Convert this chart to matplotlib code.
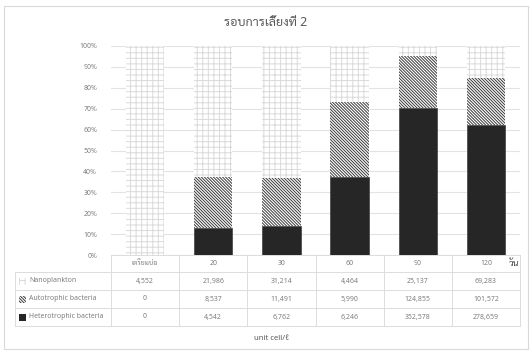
import numpy as np
import matplotlib.pyplot as plt
from matplotlib.patches import Rectangle

plt.rcParams['font.family'] = ['Noto Sans', 'Sarabun', 'Noto Sans Thai Looped', 'Noto Sans Thai',
                               'Athiti', 'Bai Jamjuree', 'DejaVu Sans']
plt.rcParams['hatch.linewidth'] = 0.7

days = ['เตรียมบ่อ', '20', '30', '60', '90', '120']
series = ['Nanoplankton', 'Autotrophic bacteria', 'Heterotrophic bacteria']
nano = [4552, 21986, 31214, 4464, 25137, 69283]
auto = [0, 8537, 11491, 5990, 124855, 101572]
hetero = [0, 4542, 6762, 6246, 352578, 278659]

W, H = 532, 352
fig = plt.figure(figsize=(W / 100, H / 100), dpi=100)

def fx(px):
    return px / W

def fy(py):
    return 1 - py / H

# outer frame
fig.patches.append(Rectangle((fx(4), fy(349)), fx(524), 343 / H, transform=fig.transFigure,
                             fill=False, edgecolor='#d9d9d9', lw=0.8))

ax = fig.add_axes([fx(111), fy(255), fx(409), 209 / H])

nano_a = np.array(nano, float)
auto_a = np.array(auto, float)
het_a = np.array(hetero, float)
total = nano_a + auto_a + het_a
x = np.arange(len(days))
bw = 0.56
auto_hatch = '\\' * 11
nano_hatch = '+++'
nano_col = '#dadada'
auto_col = '#3a3a3a'

ax.bar(x, het_a / total, bw, color='#262626', edgecolor='#404040', lw=0.5, zorder=3)
ax.bar(x, auto_a / total, bw, bottom=het_a / total, color='white', edgecolor=auto_col,
       hatch=auto_hatch, lw=0, zorder=3)
ax.bar(x, nano_a / total, bw, bottom=(het_a + auto_a) / total, color='white',
       edgecolor=nano_col, hatch=nano_hatch, lw=0, zorder=3)

ax.set_xlim(-0.5, len(days) - 0.5)
ax.set_ylim(0, 1)
ax.set_yticks(np.arange(0, 1.01, 0.1))
ax.set_yticklabels([f'{int(round(v * 100))}%' for v in np.arange(0, 1.01, 0.1)],
                   fontsize=5, color='#7f7f7f')
ax.tick_params(axis='y', length=0, pad=10)
ax.set_xticks([])
ax.grid(axis='y', color='#e3e3e3', lw=0.8, zorder=0)
for s in ax.spines.values():
    s.set_visible(False)

fig.text(0.5, fy(23), 'รอบการเลี้ยงที่ 2', ha='center', va='center', fontsize=9, color='#595959')

# data table under the bars
line_c = '#dcdcdc'
col_edges = [111 + i * 409 / 6 for i in range(7)]
row_edges = [255, 272, 290, 308, 326]
for i, yy in enumerate(row_edges):
    x0 = 111 if i == 0 else 15
    fig.add_artist(plt.Line2D([fx(x0), fx(520)], [fy(yy), fy(yy)], color=line_c, lw=0.7))
for i, xx in enumerate(col_edges):
    fig.add_artist(plt.Line2D([fx(xx), fx(xx)], [fy(255), fy(326)], color=line_c, lw=0.7))
fig.add_artist(plt.Line2D([fx(15), fx(15)], [fy(272), fy(326)], color=line_c, lw=0.7))

txt_c = '#7f7f7f'
for j, d in enumerate(days):
    cx = (col_edges[j] + col_edges[j + 1]) / 2
    fig.text(fx(cx), fy(263.5), d, ha='center', va='center', fontsize=5, color=txt_c)
fig.text(fx(514), fy(263), 'วัน', ha='center', va='center', fontsize=6.5, color='#404040')

rows = [nano, auto, hetero]
for r, vals in enumerate(rows):
    cy = (row_edges[r + 1] + row_edges[r + 2]) / 2
    for j, v in enumerate(vals):
        cx = (col_edges[j] + col_edges[j + 1]) / 2
        fig.text(fx(cx), fy(cy), f'{v:,}', ha='center', va='center', fontsize=5, color=txt_c)
    fig.text(fx(29), fy(cy), series[r], ha='left', va='center', fontsize=5, color=txt_c)

# legend keys in the table
key_style = [dict(facecolor='white', edgecolor=nano_col, hatch=nano_hatch),
             dict(facecolor='white', edgecolor=auto_col, hatch=auto_hatch),
             dict(facecolor='#262626', edgecolor='#262626')]
for r, st in enumerate(key_style):
    cy = (row_edges[r + 1] + row_edges[r + 2]) / 2
    fig.patches.append(Rectangle((fx(19), fy(cy + 3.5)), fx(7), 7 / H, transform=fig.transFigure,
                                 lw=0, **st))

fig.text(fx(272), fy(338), 'unit cell/ℓ', ha='center', va='center', fontsize=5.5, color='#595959')

fig.savefig('out.png', dpi=100)
